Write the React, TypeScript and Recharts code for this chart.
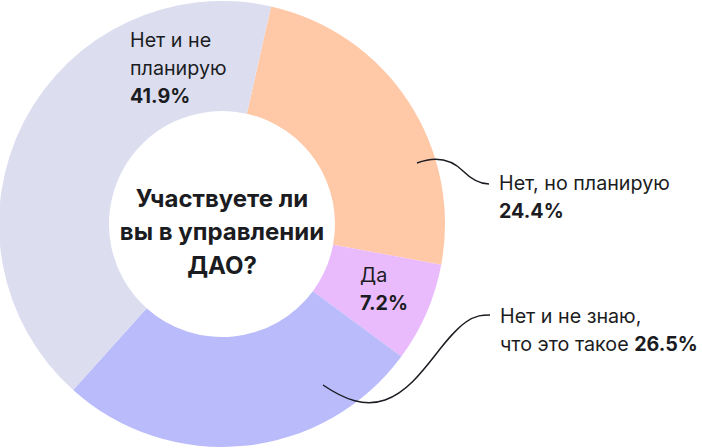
import * as React from "react";
import { PieChart, Pie, Cell } from "recharts";

const categories = ["Нет, но планирую", "Да", "Нет и не знаю, что это такое", "Нет и не планирую"];
const values = [24.4, 7.2, 26.5, 41.9];
const COLORS = ["#FFC9A8", "#E9BAFC", "#B9BBFB", "#DCDEF0"];

const INK = "#1B1C22";
const FONT = "Inter, 'Noto Sans', sans-serif";

const pieData = categories.map((name, i) => ({ name, value: values[i] }));

export default function App() {
  return (
    <div style={{ position: "absolute", left: 0, top: 0, width: 702, height: 448, background: "#fff", fontFamily: FONT }}>
      <PieChart width={702} height={448} margin={{ top: 0, right: 0, bottom: 0, left: 0 }}>
        <Pie
          data={pieData}
          dataKey="value"
          cx={222}
          cy={224}
          innerRadius={113}
          outerRadius={223}
          startAngle={77.3}
          endAngle={-282.7}
          stroke="none"
          isAnimationActive={false}
        >
          {pieData.map((_, i) => (
            <Cell key={i} fill={COLORS[i]} />
          ))}
        </Pie>
      </PieChart>
      <svg width={702} height={448} style={{ position: "absolute", left: 0, top: 0 }}>
        <path d="M417,163 C438,155 452,160 463,171 C472,180 480,184 489,184" fill="none" stroke={INK} strokeWidth={1.5} />
        <path d="M323,385 C345,400 365,407 385,400 C420,388 440,340 466,322 C476,315 483,315 490,315" fill="none" stroke={INK} strokeWidth={1.5} />
        <g fontFamily={FONT} fontSize={19.7} fill={INK}>
          <text x={130} y={47}>Нет и не</text>
          <text x={130} y={75}>планирую</text>
          <text x={130} y={103} fontWeight={700}>{values[3]}%</text>

          <text x={499} y={190}>Нет, но планирую</text>
          <text x={499} y={218} fontWeight={700}>{values[0]}%</text>

          <text x={360} y={282}>Да</text>
          <text x={360} y={310} fontWeight={700}>{values[1]}%</text>

          <text x={500} y={323}>Нет и не знаю,</text>
          <text x={500} y={351}>
            что это такое <tspan fontWeight={700}>{values[2]}%</tspan>
          </text>
        </g>
        <g fontFamily={FONT} fontSize={24} fontWeight={700} fill={INK} textAnchor="middle">
          <text x={222} y={207}>Участвуете ли</text>
          <text x={222} y={240}>вы в управлении</text>
          <text x={222} y={274}>ДАО?</text>
        </g>
      </svg>
    </div>
  );
}
